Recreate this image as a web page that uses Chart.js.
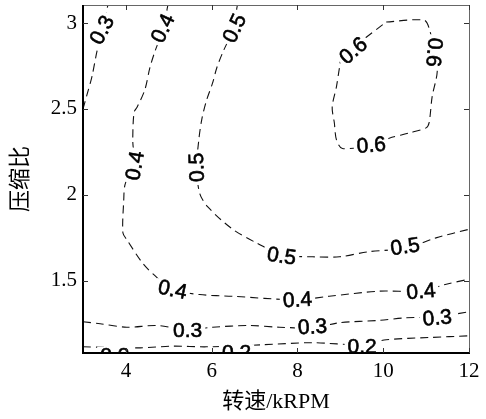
<!DOCTYPE html>
<html>
<head>
<meta charset="utf-8">
<script src="https://cdn.jsdelivr.net/npm/chart.js@4/dist/chart.umd.min.js"></script>
<style>
  html, body { margin: 0; padding: 0; background: #fff; }
  canvas { display: block; }
</style>
</head>
<body>
<canvas id="map" width="486" height="419"></canvas>
<script>
// Axis ticks
const speedTicks = [4, 6, 8, 10, 12];
const ratioTicks = [1.5, 2, 2.5, 3];

// Efficiency contours: [speed kRPM, pressure ratio]
const eff02 = [[3.0, 1.116], [4.33, 1.11], [5.09, 1.12], [5.88, 1.116], [7.19, 1.128], [8.35, 1.14],
               [9.51, 1.128], [10.07, 1.157], [11.07, 1.17], [12.0, 1.18]];
const eff03Low = [[3.0, 1.262], [3.40, 1.25], [4.02, 1.23], [4.72, 1.24], [5.44, 1.215], [6.02, 1.23],
                  [6.88, 1.24], [7.58, 1.23], [8.35, 1.227], [8.98, 1.256], [9.91, 1.27], [10.53, 1.285],
                  [11.23, 1.29], [12.0, 1.32]];
const eff03High = [[3.0, 2.50], [3.09, 2.58], [3.21, 2.69], [3.33, 2.84], [3.45, 2.95], [3.58, 3.105]];
const eff04 = [[4.98, 3.105], [4.86, 2.96], [4.67, 2.83], [4.56, 2.74], [4.44, 2.61], [4.26, 2.51],
               [4.19, 2.48], [4.16, 2.32], [4.18, 2.19], [3.98, 2.06], [3.95, 1.97], [3.93, 1.78],
               [4.02, 1.74], [4.40, 1.60], [4.72, 1.52], [5.09, 1.45], [5.72, 1.42], [6.49, 1.41],
               [7.98, 1.39], [8.74, 1.41], [9.91, 1.44], [10.84, 1.44], [11.47, 1.48], [12.0, 1.51]];
const eff05 = [[6.60, 3.105], [6.49, 2.96], [6.26, 2.83], [6.12, 2.74], [6.02, 2.65], [5.88, 2.55],
               [5.77, 2.44], [5.70, 2.32], [5.65, 2.16], [5.72, 2.01], [5.91, 1.93], [6.49, 1.80],
               [7.05, 1.72], [7.65, 1.65], [8.35, 1.64], [8.98, 1.64], [9.67, 1.67], [10.53, 1.69],
               [11.23, 1.75], [12.0, 1.80]];
const eff06 = [[10.07, 3.006], [10.95, 3.017], [11.07, 2.97], [11.19, 2.83], [11.26, 2.72], [11.14, 2.57],
               [11.07, 2.42], [11.00, 2.39], [10.60, 2.36], [10.14, 2.33], [9.67, 2.29], [9.05, 2.27],
               [8.91, 2.32], [8.86, 2.42], [8.81, 2.51], [8.91, 2.63], [8.98, 2.74], [9.05, 2.83],
               [9.28, 2.86], [9.51, 2.90], [10.07, 3.006]];

const contours = [
  { level: 0.2, pts: eff02 },
  { level: 0.3, pts: eff03Low },
  { level: 0.3, pts: eff03High },
  { level: 0.4, pts: eff04 },
  { level: 0.5, pts: eff05 },
  { level: 0.6, pts: eff06 }
];

// Inline contour labels: level, speed, ratio, text angle (deg)
const contourLabels = [
  [0.3, 3.44, 2.96, -62], [0.4, 4.86, 2.97, -65], [0.5, 6.53, 2.97, -65],
  [0.4, 4.21, 2.17, -80], [0.5, 5.65, 2.16, -92],
  [0.4, 5.09, 1.45, 12], [0.5, 7.63, 1.645, 8], [0.4, 8.0, 1.39, -3],
  [0.5, 10.51, 1.70, -8], [0.4, 10.88, 1.44, -5],
  [0.3, 5.44, 1.215, 0], [0.3, 8.35, 1.233, -3], [0.3, 11.26, 1.285, -5],
  [0.2, 3.74, 1.07, 0], [0.2, 6.58, 1.085, 0], [0.2, 9.51, 1.122, 0],
  [0.6, 9.30, 2.84, -40], [0.6, 11.19, 2.83, 95], [0.6, 9.72, 2.29, -5]
];

const serif = "'Liberation Serif', 'Noto Sans CJK SC', serif";

const labelPlugin = {
  id: 'contourLabels',
  afterDatasetsDraw(chart) {
    const { ctx, chartArea: a, scales: { x, y } } = chart;
    ctx.save();
    ctx.beginPath();
    ctx.rect(a.left, a.top, a.right - a.left, a.bottom - a.top);
    ctx.clip();
    ctx.font = "21px 'Liberation Sans', Arial, sans-serif";
    ctx.textAlign = 'center';
    ctx.textBaseline = 'middle';
    for (const [lvl, sx, ry, ang] of contourLabels) {
      const txt = lvl.toFixed(1);
      const w = ctx.measureText(txt).width;
      ctx.save();
      ctx.translate(x.getPixelForValue(sx), y.getPixelForValue(ry));
      ctx.rotate(ang * Math.PI / 180);
      ctx.fillStyle = '#fff';
      ctx.fillRect(-w / 2 - 3, -8, w + 6, 16);
      ctx.fillStyle = '#000';
      ctx.strokeStyle = '#000';
      ctx.lineWidth = 0.6;
      ctx.fillText(txt, 0, 1);
      ctx.strokeText(txt, 0, 1);
      ctx.restore();
    }
    ctx.restore();
  },
  afterDraw(chart) {
    const { ctx, chartArea: a, scales: { x, y } } = chart;
    ctx.save();
    // frame
    ctx.strokeStyle = '#666';
    ctx.lineWidth = 1;
    ctx.beginPath();
    ctx.moveTo(a.left, a.top + 0.5); ctx.lineTo(a.right + 0.5, a.top + 0.5);
    ctx.lineTo(a.right + 0.5, a.bottom);
    ctx.stroke();
    ctx.strokeStyle = '#000';
    ctx.lineWidth = 2;
    ctx.beginPath();
    ctx.moveTo(a.left, a.top); ctx.lineTo(a.left, a.bottom); ctx.lineTo(a.right + 1, a.bottom);
    ctx.stroke();
    // inward ticks
    ctx.lineWidth = 1;
    ctx.strokeStyle = '#333';
    const t = 5;
    ctx.beginPath();
    for (const v of speedTicks) {
      const px = Math.round(x.getPixelForValue(v)) + 0.5;
      ctx.moveTo(px, a.bottom); ctx.lineTo(px, a.bottom - t);
      ctx.moveTo(px, a.top); ctx.lineTo(px, a.top + t);
    }
    for (const v of ratioTicks) {
      const py = Math.round(y.getPixelForValue(v)) + 0.5;
      ctx.moveTo(a.left, py); ctx.lineTo(a.left + t, py);
      ctx.moveTo(a.right, py); ctx.lineTo(a.right - t, py);
    }
    ctx.stroke();
    ctx.restore();
  }
};

new Chart(document.getElementById('map'), {
  type: 'scatter',
  data: {
    datasets: contours.map(c => ({
      label: String(c.level),
      data: c.pts.map(([sx, ry]) => ({ x: sx, y: ry })),
      showLine: true,
      borderColor: '#111',
      borderWidth: 1.1,
      borderDash: [8, 5],
      pointRadius: 0,
      tension: 0.3,
      fill: false
    }))
  },
  options: {
    responsive: false,
    animation: false,
    events: [],
    layout: { padding: { left: 0, right: 17, top: 5, bottom: 0 } },
    plugins: { legend: { display: false }, tooltip: { enabled: false } },
    scales: {
      x: {
        type: 'linear', min: 3, max: 12,
        grid: { display: false, drawTicks: false },
        border: { display: false },
        afterBuildTicks: s => { s.ticks = speedTicks.map(v => ({ value: v })); },
        afterFit: s => { s.height = 66; s.paddingLeft = 0; s.paddingRight = 0; },
        ticks: { color: '#000', padding: 6, font: { family: serif, size: 21 }, maxRotation: 0,
                 callback: v => String(v) },
        title: { display: true, text: '转速/kRPM', color: '#000', padding: { top: 0, bottom: 4 },
                 font: { family: serif, size: 22 } }
      },
      y: {
        type: 'linear', min: 1.08, max: 3.105,
        grid: { display: false, drawTicks: false },
        border: { display: false },
        afterBuildTicks: s => { s.ticks = ratioTicks.map(v => ({ value: v })); },
        afterFit: s => { s.width = 83; s.paddingTop = 0; s.paddingBottom = 0; },
        ticks: { color: '#000', padding: 6, font: { family: serif, size: 21 },
                 callback: v => String(v) },
        title: { display: true, text: '压缩比', color: '#000', padding: { top: 8, bottom: 0 },
                 font: { family: serif, size: 22 } }
      }
    }
  },
  plugins: [labelPlugin]
});
</script>
</body>
</html>
